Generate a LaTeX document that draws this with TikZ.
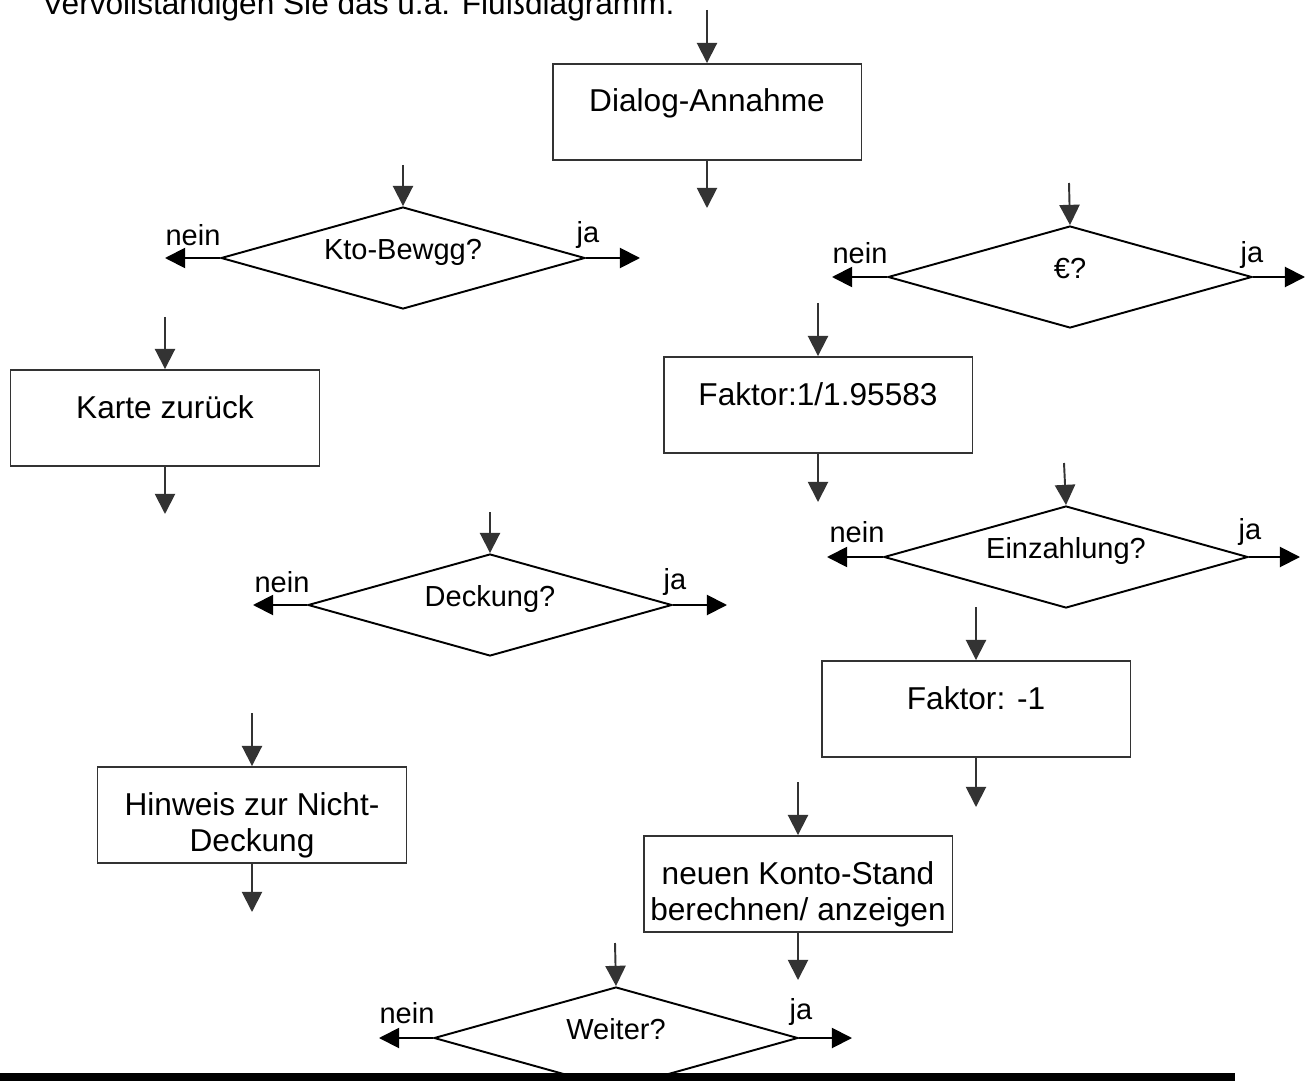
\documentclass[tikz,border=0pt]{standalone}
\usepackage{fontspec}
\setmainfont{Liberation Sans}
\usetikzlibrary{shapes.geometric, arrows.meta}
\definecolor{linegray}{HTML}{333333}
\newcommand{\twolines}[2]{\begin{tabular}[t]{@{}c@{}}#1\\#2\end{tabular}}

\begin{document}
\begin{tikzpicture}[x=0.02cm, y=-0.02cm,
  box/.style={draw=linegray, line width=1.1pt, minimum width=6.18cm, minimum height=1.92cm,
    inner sep=0pt, text height=10pt, text depth=10pt, font=\fontsize{18}{21}\selectfont},
  decision/.style={shape=diamond, aspect=3.6, draw, line width=1.1pt, minimum width=7.28cm, minimum height=2.04cm,
    inner sep=0pt, text height=12pt, text depth=10pt, font=\fontsize{16.5}{20}\selectfont},
  answer/.style={inner sep=0pt, font=\fontsize{16.5}{20}\selectfont},
  down/.style={draw=linegray, line width=1.1pt, -{Triangle[length=11.5pt, width=11.5pt]}},
  side/.style={draw=black, line width=1.1pt, -{Triangle[length=11.5pt, width=11.5pt]}}]
\useasboundingbox (0,0) rectangle (1312,1081);

\node[anchor=base west, inner sep=0pt, font=\fontsize{18}{21}\selectfont] (task) at (42,15) {Vervollständigen Sie das u.a. Flußdiagramm.};

\node[box] (dialog) at (707,112) {Dialog-Annahme};
\node[box] (karte) at (165,418) {Karte zurück};
\node[box] (faktor) at (818,405) {Faktor:1/1.95583};
\node[box] (minus) at (976,709) {Faktor: -1};
\node[box] (hinweis) at (252,815) {\twolines{Hinweis zur Nicht-}{Deckung}};
\node[box] (stand) at (798,884) {\twolines{neuen Konto-Stand}{berechnen/ anzeigen}};

\node[decision] (kto) at (403,258) {Kto-Bewgg?};
\node[decision] (euro) at (1070,277) {€?};
\node[decision] (einz) at (1066,557) {Einzahlung?};
\node[decision] (deck) at (490,605) {Deckung?};
\node[decision] (weiter) at (616,1038) {Weiter?};

\coordinate (dialog-in) at (707,10);
\coordinate (dialog-out) at (707,208);
\coordinate (kto-in) at (403,165);
\coordinate (euro-in) at (1069,183);
\coordinate (karte-in) at (165,317);
\coordinate (karte-out) at (165,514);
\coordinate (faktor-in) at (818,303);
\coordinate (faktor-out) at (818,502);
\coordinate (einz-in) at (1064,463);
\coordinate (deck-in) at (490,512);
\coordinate (minus-in) at (976,607);
\coordinate (minus-out) at (976,807);
\coordinate (hinweis-in) at (252,713);
\coordinate (hinweis-out) at (252,912);
\coordinate (stand-in) at (798,782);
\coordinate (stand-out) at (798,980);
\coordinate (weiter-in) at (615,943);

\draw[down] (dialog-in) -- (dialog.north);
\draw[down] (dialog.south) -- (dialog-out);
\draw[down] (kto-in) -- (kto.north);
\draw[down] (euro-in) -- (euro.north);
\draw[down] (karte-in) -- (karte.north);
\draw[down] (karte.south) -- (karte-out);
\draw[down] (faktor-in) -- (faktor.north);
\draw[down] (faktor.south) -- (faktor-out);
\draw[down] (einz-in) -- (einz.north);
\draw[down] (deck-in) -- (deck.north);
\draw[down] (minus-in) -- (minus.north);
\draw[down] (minus.south) -- (minus-out);
\draw[down] (hinweis-in) -- (hinweis.north);
\draw[down] (hinweis.south) -- (hinweis-out);
\draw[down] (stand-in) -- (stand.north);
\draw[down] (stand.south) -- (stand-out);
\draw[down] (weiter-in) -- (weiter.north);

\coordinate (kto-nein) at (165,258);
\coordinate (kto-ja) at (640,258);
\coordinate (euro-nein) at (832,277);
\coordinate (euro-ja) at (1305,277);
\coordinate (einz-nein) at (827,557);
\coordinate (einz-ja) at (1300,557);
\coordinate (deck-nein) at (253,605);
\coordinate (deck-ja) at (727,605);
\coordinate (weiter-nein) at (379,1038);
\coordinate (weiter-ja) at (852,1038);

\draw[side] (kto.west) -- (kto-nein);
\draw[side] (kto.east) -- (kto-ja);
\draw[side] (euro.west) -- (euro-nein);
\draw[side] (euro.east) -- (euro-ja);
\draw[side] (einz.west) -- (einz-nein);
\draw[side] (einz.east) -- (einz-ja);
\draw[side] (deck.west) -- (deck-nein);
\draw[side] (deck.east) -- (deck-ja);
\draw[side] (weiter.west) -- (weiter-nein);
\draw[side] (weiter.east) -- (weiter-ja);

\node[answer] (kto-n) at (193,235) {nein};
\node[answer] (kto-j) at (588,235) {ja};
\node[answer] (euro-n) at (860,253) {nein};
\node[answer] (euro-j) at (1252,255) {ja};
\node[answer] (einz-n) at (857,532) {nein};
\node[answer] (einz-j) at (1250,532) {ja};
\node[answer] (deck-n) at (282,582) {nein};
\node[answer] (deck-j) at (675,582) {ja};
\node[answer] (weiter-n) at (407,1013) {nein};
\node[answer] (weiter-j) at (801,1012) {ja};

\fill (0,1073) rectangle (1235,1081);
\end{tikzpicture}
\end{document}
